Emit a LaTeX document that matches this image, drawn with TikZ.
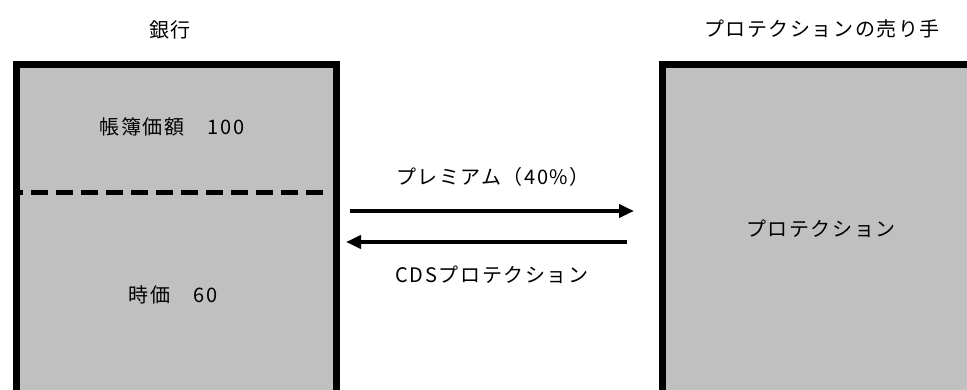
\documentclass[tikz,border=0pt]{standalone}
\usepackage{fontspec}
\setmainfont{Noto Sans CJK JP}[LetterSpace=8]
\usetikzlibrary{arrows.meta}
\definecolor{boxgray}{HTML}{C0C0C0}
\tikzset{
  box/.style={draw=black, line width=7pt, fill=boxgray, inner sep=0pt, anchor=north west},
  lbl/.style={font=\fontsize{20}{24}\selectfont, inner sep=0pt, text=black},
  arr/.style={line width=4pt, -{Triangle[length=15pt,width=13pt]}},
  divider/.style={line width=5pt, dash pattern=on 17pt off 8pt, dash phase=10pt}
}
\begin{document}
\begin{tikzpicture}[x=1pt,y=-1pt]
\useasboundingbox (0,0) rectangle (967,390);
\clip (0,0) rectangle (967,390);
\node[box, minimum width=320pt, minimum height=370pt] (bank) at (12.5,61.5) {};
\node[box, minimum width=400pt, minimum height=370pt] (seller) at (658.5,61.5) {};
\coordinate (dl) at (16,193);
\coordinate (dr) at (329,193);
\draw[divider] (dl) -- (dr);
\node[lbl] (t1) at (170,30) {銀行};
\node[lbl] (t2) at (822,29) {プロテクションの売り手};
\node[lbl] (book) at (172,127) {帳簿価額　100};
\node[lbl] (mkt) at (173,295) {時価　60};
\node[lbl] (prot) at (821,229) {プロテクション};
\node[lbl] (prem) at (493,177) {プレミアム（40\%）};
\node[lbl] (cds) at (492,275) {CDSプロテクション};
\coordinate (a1s) at (350,211);
\coordinate (a1e) at (634,211);
\coordinate (a2s) at (627,242);
\coordinate (a2e) at (346,242);
\draw[arr] (a1s) -- (a1e);
\draw[arr] (a2s) -- (a2e);
\end{tikzpicture}
\end{document}
